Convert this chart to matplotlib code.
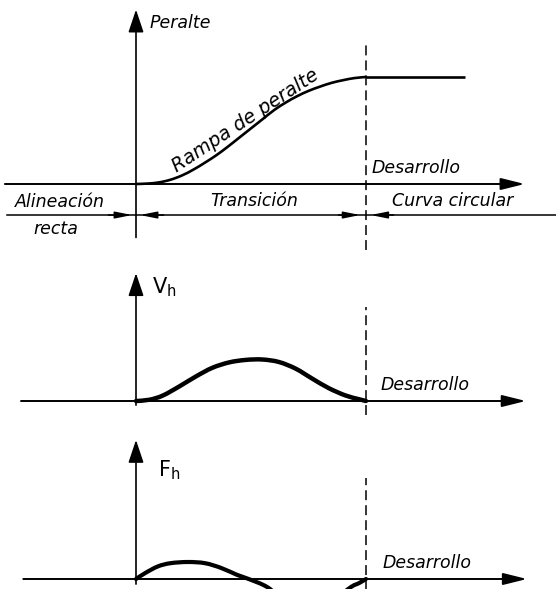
import matplotlib
matplotlib.use("Agg")
import matplotlib.pyplot as plt
from matplotlib.path import Path
from matplotlib.patches import PathPatch

# ---------------- data (x in units of the transition length) ----------------
PERALTE_X = [0, .05, .1, .15, .2, .25, .3, .35, .4, .45, .5, .55, .6, .65, .7, .75,
             .8, .85, .9, .95, 1.0, 1.43]
PERALTE_Y = [0, .004, .015, .04, .08, .135, .20, .27, .35, .435, .52, .605, .69, .76,
             .82, .87, .91, .945, .97, .99, 1.0, 1.0]

VH_X = [0, .058, .116, .188, .26, .332, .405, .477, .549, .621, .694, .766, .838,
        .91, .968, 1.0]
VH_Y = [0, .03, .13, .35, .59, .80, .93, .99, 1.0, .94, .78, .54, .31, .135, .045, 0]

FH_X = [0, .04, .095, .15, .226, .30, .37, .44, .49, .57, .65, .75, .85, .935, .97, 1.0]
FH_Y = [0, .35, .74, .93, 1.0, .93, .65, .24, 0, -.47, -1.3, -1.8, -1.3, -.47, -.24, 0]

TOP_LABEL = "Peralte"
RAMP_LABEL = "Rampa de peralte"
X_LABEL = "Desarrollo"
SEGMENTS = ["Alineación", "recta", "Transición", "Curva circular"]
MID_LABEL = r"$\mathsf{V}_{\mathsf{h}}$"
BOT_LABEL = r"$\mathsf{F}_{\mathsf{h}}$"

# ---------------- figure ----------------
W, H, DPI = 556, 589, 100
fig = plt.figure(figsize=(W / DPI, H / DPI), dpi=DPI)
fig.patch.set_facecolor("white")

X0_PX, XUNIT_PX = 136, 230
XLIM = (-X0_PX / XUNIT_PX, (W - X0_PX) / XUNIT_PX)


def panel(axis_px, unit_px):
    ax = fig.add_axes([0, 0, 1, 1])
    ax.set_xlim(*XLIM)
    ax.set_ylim((axis_px - H) / unit_px, axis_px / unit_px)
    ax.axis("off")
    ax.patch.set_alpha(0)
    return ax


def smooth_curve(ax, xs, ys, lw):
    """Draw a smooth Bezier path (Catmull-Rom) through the read points."""
    pts = list(zip(xs, ys))
    n = len(pts)
    verts = [pts[0]]
    codes = [Path.MOVETO]
    for i in range(n - 1):
        p0 = pts[i - 1] if i > 0 else pts[i]
        p1 = pts[i]
        p2 = pts[i + 1]
        p3 = pts[i + 2] if i + 2 < n else pts[i + 1]
        c1 = (p1[0] + (p2[0] - p0[0]) / 6, p1[1] + (p2[1] - p0[1]) / 6)
        c2 = (p2[0] - (p3[0] - p1[0]) / 6, p2[1] - (p3[1] - p1[1]) / 6)
        verts += [c1, c2, p2]
        codes += [Path.CURVE4] * 3
    ax.add_patch(PathPatch(Path(verts, codes), facecolor="none", edgecolor="black",
                           lw=lw, capstyle="round", joinstyle="round"))


def arrow(ax, start, end, hl, hw, lw):
    ax.annotate("", xy=end, xytext=start,
                arrowprops=dict(arrowstyle=f"-|>,head_length={hl},head_width={hw}",
                                lw=lw, color="black", shrinkA=0, shrinkB=0,
                                mutation_scale=10))


FONT = dict(family="DejaVu Sans", style="italic", color="black")
DASH = (0, (6.5, 3.3))

# ---------- top panel: Peralte ----------
top = panel(184, 107)
arrow(top, (-0.57, 0), (1.69, 0), 1.45, 0.36, 1.4)
arrow(top, (0, -0.5), (0, 1.63), 1.4, 0.47, 1.2)
top.plot([1, 1], [-0.62, 1.32], color="black", lw=1.1, linestyle=DASH)
smooth_curve(top, PERALTE_X[:-1], PERALTE_Y[:-1], 1.9)
top.plot(PERALTE_X[-2:], PERALTE_Y[-2:], color="black", lw=1.9, solid_capstyle="butt")
top.text(0.057, 1.5, TOP_LABEL, fontsize=12.5, va="center", ha="left", **FONT)
top.text(0.475, 0.59, RAMP_LABEL, fontsize=13.8, rotation=33.5,
         va="center", ha="center", rotation_mode="anchor", **FONT)
top.text(1.026, 0.15, X_LABEL, fontsize=12.5, va="center", ha="left", **FONT)

# dimension line with segment names
dim_y = -0.29
top.plot([XLIM[0] + 0.03, XLIM[1]], [dim_y, dim_y], color="black", lw=1.1)
for s, e in [((-0.12, dim_y), (-0.017, dim_y)), ((0.12, dim_y), (0.017, dim_y)),
             ((0.88, dim_y), (0.975, dim_y)), ((1.12, dim_y), (1.02, dim_y))]:
    arrow(top, s, e, 1.0, 0.2, 1.1)
top.text(-0.526, -0.17, SEGMENTS[0], fontsize=12.5, va="center", ha="left", **FONT)
top.text(-0.448, -0.42, SEGMENTS[1], fontsize=12.5, va="center", ha="left", **FONT)
top.text(0.515, -0.16, SEGMENTS[2], fontsize=12.5, va="center", ha="center", **FONT)
top.text(1.113, -0.16, SEGMENTS[3], fontsize=12.5, va="center", ha="left", **FONT)

# ---------- middle panel: V_h ----------
mid = panel(401, 41.5)
arrow(mid, (-0.5, 0), (1.695, 0), 1.45, 0.36, 1.4)
arrow(mid, (0, -0.1), (0, 3.08), 1.4, 0.47, 1.2)
mid.plot([1, 1], [-0.34, 2.27], color="black", lw=1.1, linestyle=DASH)
smooth_curve(mid, VH_X, VH_Y, 3.2)
mid.text(0.07, 2.75, MID_LABEL, fontsize=15, va="center", ha="left", color="black")
mid.text(1.065, 0.39, X_LABEL, fontsize=12.5, va="center", ha="left", **FONT)

# ---------- bottom panel: F_h ----------
bot = panel(579, 17)
arrow(bot, (-0.49, 0), (1.70, 0), 1.45, 0.36, 1.4)
arrow(bot, (0, -0.3), (0, 8.18), 1.4, 0.47, 1.2)
bot.plot([1, 1], [-1.0, 5.94], color="black", lw=1.1, linestyle=DASH)
smooth_curve(bot, FH_X, FH_Y, 3.0)
bot.text(0.096, 6.4, BOT_LABEL, fontsize=15, va="center", ha="left", color="black")
bot.text(1.074, 0.94, X_LABEL, fontsize=12.5, va="center", ha="left", **FONT)

fig.savefig("out.png", dpi=DPI, facecolor="white")
